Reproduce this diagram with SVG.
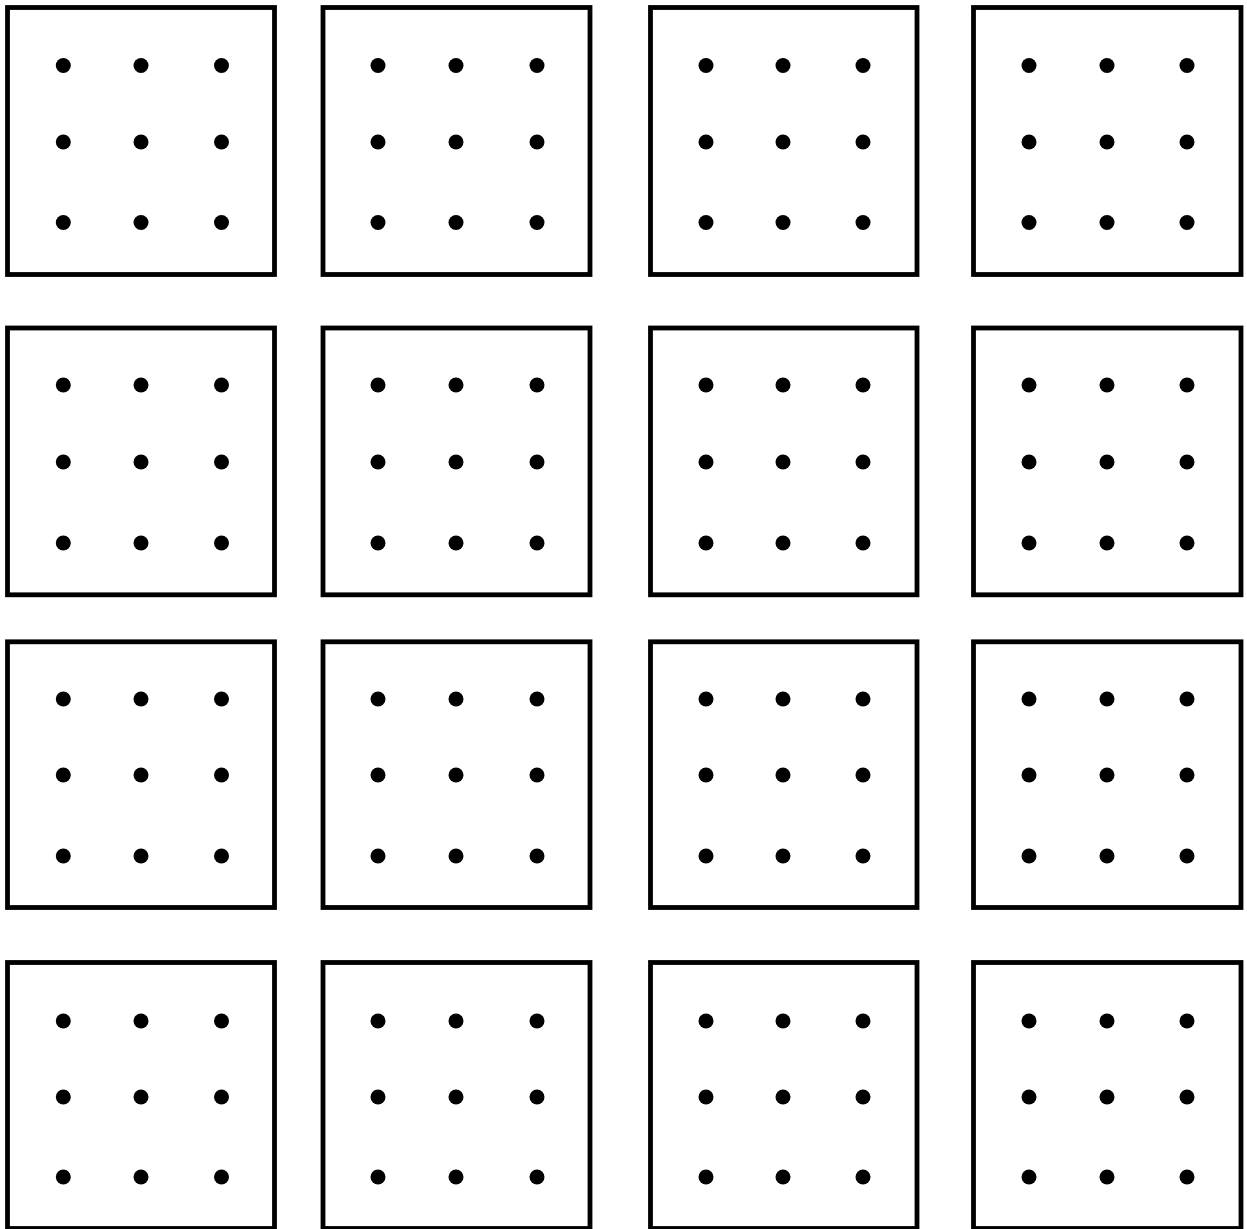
<svg xmlns="http://www.w3.org/2000/svg" width="1247" height="1229" viewBox="0 0 1247 1229">
<style>
.box{fill:#fff;stroke:#000;stroke-width:4.8}
.dot{fill:#000}
circle{r:7.5}
</style>
<rect width="1247" height="1229" fill="#fff"/>
<g id="r1c1"><rect class="box" x="7.5" y="7.5" width="267" height="267"/><circle class="dot" cx="63.3" cy="65.5" r="7.5"/><circle class="dot" cx="141" cy="65.5" r="7.5"/><circle class="dot" cx="221.5" cy="65.5" r="7.5"/><circle class="dot" cx="63.3" cy="142" r="7.5"/><circle class="dot" cx="141" cy="142" r="7.5"/><circle class="dot" cx="221.5" cy="142" r="7.5"/><circle class="dot" cx="63.3" cy="222.5" r="7.5"/><circle class="dot" cx="141" cy="222.5" r="7.5"/><circle class="dot" cx="221.5" cy="222.5" r="7.5"/></g>
<g id="r1c2"><rect class="box" x="323" y="7.5" width="267" height="267"/><circle class="dot" cx="378" cy="65.5" r="7.5"/><circle class="dot" cx="456" cy="65.5" r="7.5"/><circle class="dot" cx="537" cy="65.5" r="7.5"/><circle class="dot" cx="378" cy="142" r="7.5"/><circle class="dot" cx="456" cy="142" r="7.5"/><circle class="dot" cx="537" cy="142" r="7.5"/><circle class="dot" cx="378" cy="222.5" r="7.5"/><circle class="dot" cx="456" cy="222.5" r="7.5"/><circle class="dot" cx="537" cy="222.5" r="7.5"/></g>
<g id="r1c3"><rect class="box" x="650.5" y="7.5" width="266.5" height="267"/><circle class="dot" cx="706" cy="65.5" r="7.5"/><circle class="dot" cx="783" cy="65.5" r="7.5"/><circle class="dot" cx="863" cy="65.5" r="7.5"/><circle class="dot" cx="706" cy="142" r="7.5"/><circle class="dot" cx="783" cy="142" r="7.5"/><circle class="dot" cx="863" cy="142" r="7.5"/><circle class="dot" cx="706" cy="222.5" r="7.5"/><circle class="dot" cx="783" cy="222.5" r="7.5"/><circle class="dot" cx="863" cy="222.5" r="7.5"/></g>
<g id="r1c4"><rect class="box" x="973.5" y="7.5" width="267.5" height="267"/><circle class="dot" cx="1029" cy="65.5" r="7.5"/><circle class="dot" cx="1107" cy="65.5" r="7.5"/><circle class="dot" cx="1187" cy="65.5" r="7.5"/><circle class="dot" cx="1029" cy="142" r="7.5"/><circle class="dot" cx="1107" cy="142" r="7.5"/><circle class="dot" cx="1187" cy="142" r="7.5"/><circle class="dot" cx="1029" cy="222.5" r="7.5"/><circle class="dot" cx="1107" cy="222.5" r="7.5"/><circle class="dot" cx="1187" cy="222.5" r="7.5"/></g>
<g id="r2c1"><rect class="box" x="7.5" y="328" width="267" height="266.8"/><circle class="dot" cx="63.3" cy="385" r="7.5"/><circle class="dot" cx="141" cy="385" r="7.5"/><circle class="dot" cx="221.5" cy="385" r="7.5"/><circle class="dot" cx="63.3" cy="462" r="7.5"/><circle class="dot" cx="141" cy="462" r="7.5"/><circle class="dot" cx="221.5" cy="462" r="7.5"/><circle class="dot" cx="63.3" cy="543" r="7.5"/><circle class="dot" cx="141" cy="543" r="7.5"/><circle class="dot" cx="221.5" cy="543" r="7.5"/></g>
<g id="r2c2"><rect class="box" x="323" y="328" width="267" height="266.8"/><circle class="dot" cx="378" cy="385" r="7.5"/><circle class="dot" cx="456" cy="385" r="7.5"/><circle class="dot" cx="537" cy="385" r="7.5"/><circle class="dot" cx="378" cy="462" r="7.5"/><circle class="dot" cx="456" cy="462" r="7.5"/><circle class="dot" cx="537" cy="462" r="7.5"/><circle class="dot" cx="378" cy="543" r="7.5"/><circle class="dot" cx="456" cy="543" r="7.5"/><circle class="dot" cx="537" cy="543" r="7.5"/></g>
<g id="r2c3"><rect class="box" x="650.5" y="328" width="266.5" height="266.8"/><circle class="dot" cx="706" cy="385" r="7.5"/><circle class="dot" cx="783" cy="385" r="7.5"/><circle class="dot" cx="863" cy="385" r="7.5"/><circle class="dot" cx="706" cy="462" r="7.5"/><circle class="dot" cx="783" cy="462" r="7.5"/><circle class="dot" cx="863" cy="462" r="7.5"/><circle class="dot" cx="706" cy="543" r="7.5"/><circle class="dot" cx="783" cy="543" r="7.5"/><circle class="dot" cx="863" cy="543" r="7.5"/></g>
<g id="r2c4"><rect class="box" x="973.5" y="328" width="267.5" height="266.8"/><circle class="dot" cx="1029" cy="385" r="7.5"/><circle class="dot" cx="1107" cy="385" r="7.5"/><circle class="dot" cx="1187" cy="385" r="7.5"/><circle class="dot" cx="1029" cy="462" r="7.5"/><circle class="dot" cx="1107" cy="462" r="7.5"/><circle class="dot" cx="1187" cy="462" r="7.5"/><circle class="dot" cx="1029" cy="543" r="7.5"/><circle class="dot" cx="1107" cy="543" r="7.5"/><circle class="dot" cx="1187" cy="543" r="7.5"/></g>
<g id="r3c1"><rect class="box" x="7.5" y="641.8" width="267" height="265.7"/><circle class="dot" cx="63.3" cy="699" r="7.5"/><circle class="dot" cx="141" cy="699" r="7.5"/><circle class="dot" cx="221.5" cy="699" r="7.5"/><circle class="dot" cx="63.3" cy="775" r="7.5"/><circle class="dot" cx="141" cy="775" r="7.5"/><circle class="dot" cx="221.5" cy="775" r="7.5"/><circle class="dot" cx="63.3" cy="856" r="7.5"/><circle class="dot" cx="141" cy="856" r="7.5"/><circle class="dot" cx="221.5" cy="856" r="7.5"/></g>
<g id="r3c2"><rect class="box" x="323" y="641.8" width="267" height="265.7"/><circle class="dot" cx="378" cy="699" r="7.5"/><circle class="dot" cx="456" cy="699" r="7.5"/><circle class="dot" cx="537" cy="699" r="7.5"/><circle class="dot" cx="378" cy="775" r="7.5"/><circle class="dot" cx="456" cy="775" r="7.5"/><circle class="dot" cx="537" cy="775" r="7.5"/><circle class="dot" cx="378" cy="856" r="7.5"/><circle class="dot" cx="456" cy="856" r="7.5"/><circle class="dot" cx="537" cy="856" r="7.5"/></g>
<g id="r3c3"><rect class="box" x="650.5" y="641.8" width="266.5" height="265.7"/><circle class="dot" cx="706" cy="699" r="7.5"/><circle class="dot" cx="783" cy="699" r="7.5"/><circle class="dot" cx="863" cy="699" r="7.5"/><circle class="dot" cx="706" cy="775" r="7.5"/><circle class="dot" cx="783" cy="775" r="7.5"/><circle class="dot" cx="863" cy="775" r="7.5"/><circle class="dot" cx="706" cy="856" r="7.5"/><circle class="dot" cx="783" cy="856" r="7.5"/><circle class="dot" cx="863" cy="856" r="7.5"/></g>
<g id="r3c4"><rect class="box" x="973.5" y="641.8" width="267.5" height="265.7"/><circle class="dot" cx="1029" cy="699" r="7.5"/><circle class="dot" cx="1107" cy="699" r="7.5"/><circle class="dot" cx="1187" cy="699" r="7.5"/><circle class="dot" cx="1029" cy="775" r="7.5"/><circle class="dot" cx="1107" cy="775" r="7.5"/><circle class="dot" cx="1187" cy="775" r="7.5"/><circle class="dot" cx="1029" cy="856" r="7.5"/><circle class="dot" cx="1107" cy="856" r="7.5"/><circle class="dot" cx="1187" cy="856" r="7.5"/></g>
<g id="r4c1"><rect class="box" x="7.5" y="962.5" width="267" height="266"/><circle class="dot" cx="63.3" cy="1021" r="7.5"/><circle class="dot" cx="141" cy="1021" r="7.5"/><circle class="dot" cx="221.5" cy="1021" r="7.5"/><circle class="dot" cx="63.3" cy="1097" r="7.5"/><circle class="dot" cx="141" cy="1097" r="7.5"/><circle class="dot" cx="221.5" cy="1097" r="7.5"/><circle class="dot" cx="63.3" cy="1177" r="7.5"/><circle class="dot" cx="141" cy="1177" r="7.5"/><circle class="dot" cx="221.5" cy="1177" r="7.5"/></g>
<g id="r4c2"><rect class="box" x="323" y="962.5" width="267" height="266"/><circle class="dot" cx="378" cy="1021" r="7.5"/><circle class="dot" cx="456" cy="1021" r="7.5"/><circle class="dot" cx="537" cy="1021" r="7.5"/><circle class="dot" cx="378" cy="1097" r="7.5"/><circle class="dot" cx="456" cy="1097" r="7.5"/><circle class="dot" cx="537" cy="1097" r="7.5"/><circle class="dot" cx="378" cy="1177" r="7.5"/><circle class="dot" cx="456" cy="1177" r="7.5"/><circle class="dot" cx="537" cy="1177" r="7.5"/></g>
<g id="r4c3"><rect class="box" x="650.5" y="962.5" width="266.5" height="266"/><circle class="dot" cx="706" cy="1021" r="7.5"/><circle class="dot" cx="783" cy="1021" r="7.5"/><circle class="dot" cx="863" cy="1021" r="7.5"/><circle class="dot" cx="706" cy="1097" r="7.5"/><circle class="dot" cx="783" cy="1097" r="7.5"/><circle class="dot" cx="863" cy="1097" r="7.5"/><circle class="dot" cx="706" cy="1177" r="7.5"/><circle class="dot" cx="783" cy="1177" r="7.5"/><circle class="dot" cx="863" cy="1177" r="7.5"/></g>
<g id="r4c4"><rect class="box" x="973.5" y="962.5" width="267.5" height="266"/><circle class="dot" cx="1029" cy="1021" r="7.5"/><circle class="dot" cx="1107" cy="1021" r="7.5"/><circle class="dot" cx="1187" cy="1021" r="7.5"/><circle class="dot" cx="1029" cy="1097" r="7.5"/><circle class="dot" cx="1107" cy="1097" r="7.5"/><circle class="dot" cx="1187" cy="1097" r="7.5"/><circle class="dot" cx="1029" cy="1177" r="7.5"/><circle class="dot" cx="1107" cy="1177" r="7.5"/><circle class="dot" cx="1187" cy="1177" r="7.5"/></g>
<g id="connectors"></g>
</svg>
